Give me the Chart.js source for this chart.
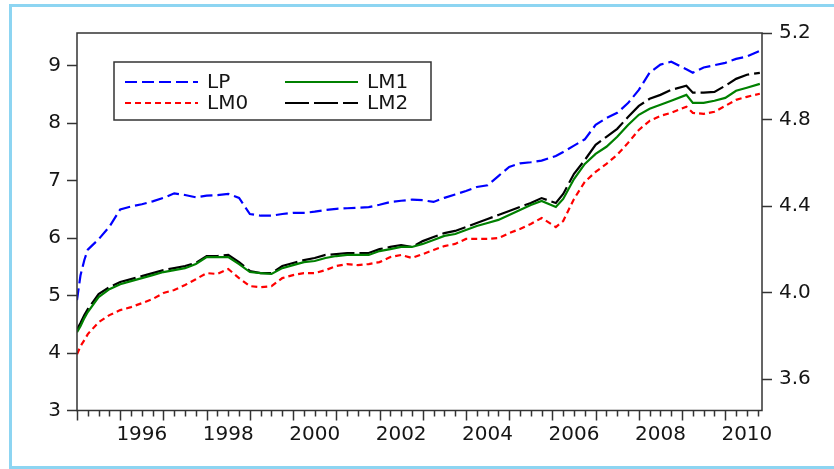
<!DOCTYPE html>
<html>
<head>
<meta charset="utf-8">
<title>LP, LM0, LM1, LM2</title>
<script src="https://cdn.jsdelivr.net/npm/chart.js@4.4.1/dist/chart.umd.min.js"></script>
<style>
  html, body { margin: 0; padding: 0; background: #fff; }
  #wrap  { position: relative; width: 834px; height: 469px; overflow: hidden; }
  #chart { position: absolute; left: 0; top: 0; }
  #frame { position: absolute; left: 9px; top: 4px; width: 840px; height: 465px;
           border: 3px solid #8dd5f2; box-sizing: border-box; pointer-events: none; }
</style>
</head>
<body>
<div id="wrap">
  <canvas id="chart" width="834" height="469"></canvas>
  <div id="frame"></div>
</div>
<script>
// LP (left scale) against LM0 / LM1 / LM2 (right scale), 1995-2010
(function () {
  'use strict';

  // ── Data ─────────────────────────────────────────

  const dates = [
    1995.0, 1995.08, 1995.17, 1995.25, 1995.5, 1995.75,
    1996.0, 1996.25, 1996.5, 1996.75,
    1997.0, 1997.25, 1997.5, 1997.75,
    1998.0, 1998.25, 1998.5, 1998.75,
    1999.0, 1999.25, 1999.5, 1999.75,
    2000.0, 2000.25, 2000.5, 2000.75,
    2001.0, 2001.25, 2001.5, 2001.75,
    2002.0, 2002.25, 2002.5, 2002.75,
    2003.0, 2003.25, 2003.5, 2003.75,
    2004.0, 2004.25, 2004.5, 2004.75,
    2005.0, 2005.25, 2005.5, 2005.75,
    2006.08, 2006.25, 2006.5, 2006.75,
    2007.0, 2007.25, 2007.5, 2007.75,
    2008.0, 2008.25, 2008.5, 2008.75,
    2009.1, 2009.25, 2009.5, 2009.75,
    2010.0, 2010.25, 2010.5, 2010.8
  ];

  const LP = [
    4.92, 5.35, 5.62, 5.80, 5.98, 6.20,
    6.50, 6.55, 6.59, 6.64,
    6.70, 6.78, 6.75, 6.71,
    6.74, 6.75, 6.77, 6.70,
    6.42, 6.39, 6.39, 6.42,
    6.44, 6.44, 6.46, 6.49,
    6.51, 6.52, 6.53, 6.54,
    6.58, 6.63, 6.65, 6.67,
    6.66, 6.63, 6.70, 6.76,
    6.82, 6.89, 6.92, 7.08,
    7.24, 7.30, 7.32, 7.35,
    7.43, 7.50, 7.61, 7.72,
    7.97, 8.09, 8.18, 8.35,
    8.58, 8.88, 9.02, 9.07,
    8.94, 8.88, 8.97, 9.01,
    9.05, 9.12, 9.16, 9.26
  ];

  const LM0 = [
    3.715, 3.752, 3.780, 3.808, 3.863, 3.896,
    3.919, 3.933, 3.951, 3.970,
    3.998, 4.012, 4.035, 4.062,
    4.090, 4.086, 4.109, 4.067,
    4.030, 4.025, 4.030, 4.067,
    4.081, 4.090, 4.090, 4.104,
    4.123, 4.132, 4.127, 4.132,
    4.141, 4.164, 4.174, 4.160,
    4.178, 4.197, 4.215, 4.225,
    4.248, 4.248, 4.248, 4.252,
    4.275, 4.294, 4.317, 4.345,
    4.303, 4.331, 4.433, 4.512,
    4.558, 4.595, 4.637, 4.692,
    4.752, 4.794, 4.817, 4.831,
    4.859, 4.831, 4.826, 4.836,
    4.863, 4.891, 4.905, 4.919
  ];

  const LM1 = [
    3.817, 3.845, 3.882, 3.910, 3.979, 4.016,
    4.039, 4.053, 4.067, 4.081,
    4.095, 4.104, 4.113, 4.132,
    4.164, 4.164, 4.164, 4.132,
    4.095, 4.090, 4.086, 4.113,
    4.127, 4.141, 4.146, 4.160,
    4.169, 4.174, 4.174, 4.174,
    4.192, 4.201, 4.211, 4.211,
    4.225, 4.243, 4.262, 4.271,
    4.289, 4.308, 4.322, 4.336,
    4.359, 4.382, 4.405, 4.424,
    4.396, 4.433, 4.525, 4.595,
    4.641, 4.674, 4.720, 4.775,
    4.822, 4.850, 4.868, 4.887,
    4.914, 4.877, 4.877, 4.887,
    4.900, 4.933, 4.947, 4.965
  ];

  const LM2 = [
    3.831, 3.859, 3.896, 3.924, 3.993, 4.025,
    4.049, 4.062, 4.076, 4.090,
    4.104, 4.113, 4.123, 4.137,
    4.169, 4.169, 4.174, 4.141,
    4.100, 4.090, 4.090, 4.123,
    4.137, 4.150, 4.160, 4.174,
    4.178, 4.183, 4.183, 4.183,
    4.201, 4.211, 4.220, 4.211,
    4.238, 4.257, 4.275, 4.285,
    4.303, 4.322, 4.340, 4.359,
    4.377, 4.396, 4.414, 4.437,
    4.414, 4.456, 4.549, 4.613,
    4.683, 4.720, 4.757, 4.812,
    4.863, 4.896, 4.914, 4.937,
    4.956, 4.924, 4.924, 4.928,
    4.956, 4.988, 5.007, 5.016
  ];

  const yearLabels = ['1996', '1998', '2000', '2002', '2004', '2006', '2008', '2010'];
  const leftTicks  = [3, 4, 5, 6, 7, 8, 9];
  const rightTicks = [3.6, 4.0, 4.4, 4.8, 5.2];

  // ── Helpers ──────────────────────────────────────

  const font = { family: "'DejaVu Sans', Verdana, sans-serif", size: 20 };
  const ink  = '#151515';

  function points(values) {
    return values.map((v, i) => ({ x: dates[i], y: v }));
  }

  function series(label, values, color, dash, axis) {
    return {
      label,
      data: points(values),
      yAxisID: axis,
      borderColor: color,
      borderWidth: 2.2,
      borderDash: dash,
      pointRadius: 0,
      tension: 0,
      fill: false
    };
  }

  // ── Plugins ──────────────────────────────────────

  const plotFrame = {
    id: 'plotFrame',
    afterDraw(chart) {
      const { ctx, chartArea: a } = chart;
      ctx.save();
      ctx.strokeStyle = '#333';
      ctx.lineWidth = 1.5;
      ctx.strokeRect(a.left, a.top, a.right - a.left, a.bottom - a.top);
      ctx.restore();
    }
  };

  // yearly ticks long, quarterly ticks short
  const quarterTicks = {
    id: 'quarterTicks',
    afterDraw(chart) {
      const { ctx, chartArea: a } = chart;
      const xs = chart.scales.x;
      ctx.save();
      ctx.strokeStyle = '#333';
      ctx.lineWidth = 1.5;
      for (let q = 1995 * 4; q <= 2010 * 4 + 3; q++) {
        const px  = Math.round(xs.getPixelForValue(q / 4)) + 0.5;
        const len = q % 4 === 0 ? 10 : 6;
        ctx.beginPath();
        ctx.moveTo(px, a.bottom);
        ctx.lineTo(px, a.bottom + len);
        ctx.stroke();
      }
      ctx.restore();
    }
  };

  const legendBox = {
    id: 'legendBox',
    afterDraw(chart) {
      const { ctx, chartArea: a } = chart;
      const x0 = a.left + 37, y0 = a.top + 29;
      ctx.save();
      ctx.fillStyle = '#fff';
      ctx.fillRect(x0, y0, 317, 58);
      ctx.strokeStyle = '#333';
      ctx.lineWidth = 1.5;
      ctx.strokeRect(x0, y0, 317, 58);
      ctx.font = `${font.size}px ${font.family}`;
      ctx.textBaseline = 'middle';
      chart.data.datasets.forEach((ds, i) => {
        const lx = x0 + 11 + Math.floor(i / 2) * 160;
        const ly = y0 + 20 + (i % 2) * 21;
        ctx.strokeStyle = ds.borderColor;
        ctx.lineWidth = ds.borderWidth;
        ctx.setLineDash(ds.borderDash || []);
        ctx.beginPath();
        ctx.moveTo(lx, ly);
        ctx.lineTo(lx + 73, ly);
        ctx.stroke();
        ctx.setLineDash([]);
        ctx.fillStyle = ink;
        ctx.fillText(ds.label, lx + 82, ly + 1);
      });
      ctx.restore();
    }
  };

  // ── Chart ────────────────────────────────────────

  new Chart(document.getElementById('chart'), {
    type: 'line',
    data: {
      datasets: [
        series('LP',  LP,  '#0000ff', [12, 5], 'y'),
        series('LM0', LM0, '#ff0000', [6, 4],  'y1'),
        series('LM1', LM1, '#008000', [],      'y1'),
        series('LM2', LM2, '#000000', [24, 5], 'y1')
      ]
    },
    options: {
      responsive: false,
      animation: false,
      layout: { padding: { top: 33, left: 0, right: 0, bottom: 0 } },
      plugins: { legend: { display: false }, tooltip: { enabled: false } },
      scales: {
        x: {
          type: 'linear',
          min: 1995,
          max: 2010.85,
          grid: { display: false, drawTicks: false },
          border: { display: false },
          afterBuildTicks: s => { s.ticks = yearLabels.map(y => ({ value: Number(y) + 0.5 })); },
          afterFit: s => { s.height = 58.5; },
          ticks: {
            autoSkip: false, maxRotation: 0, padding: 12, color: ink, font,
            callback: v => String(Math.floor(v))
          }
        },
        y: {
          position: 'left',
          min: 3,
          max: 9.57,
          grid: { drawOnChartArea: false, drawTicks: true, tickLength: 10, tickColor: '#333', tickWidth: 1.5 },
          border: { display: false },
          afterBuildTicks: s => { s.ticks = leftTicks.map(v => ({ value: v })); },
          afterFit: s => { s.width = 77; },
          ticks: { padding: 6, color: ink, font }
        },
        y1: {
          position: 'right',
          min: 3.455,
          max: 5.2,
          grid: { drawOnChartArea: false, drawTicks: true, tickLength: 10, tickColor: '#333', tickWidth: 1.5 },
          border: { display: false },
          afterBuildTicks: s => { s.ticks = rightTicks.map(v => ({ value: v })); },
          afterFit: s => { s.width = 72; },
          ticks: { padding: 7, color: ink, font, callback: v => Number(v).toFixed(1) }
        }
      }
    },
    plugins: [plotFrame, quarterTicks, legendBox]
  });

})();
</script>
</body>
</html>
